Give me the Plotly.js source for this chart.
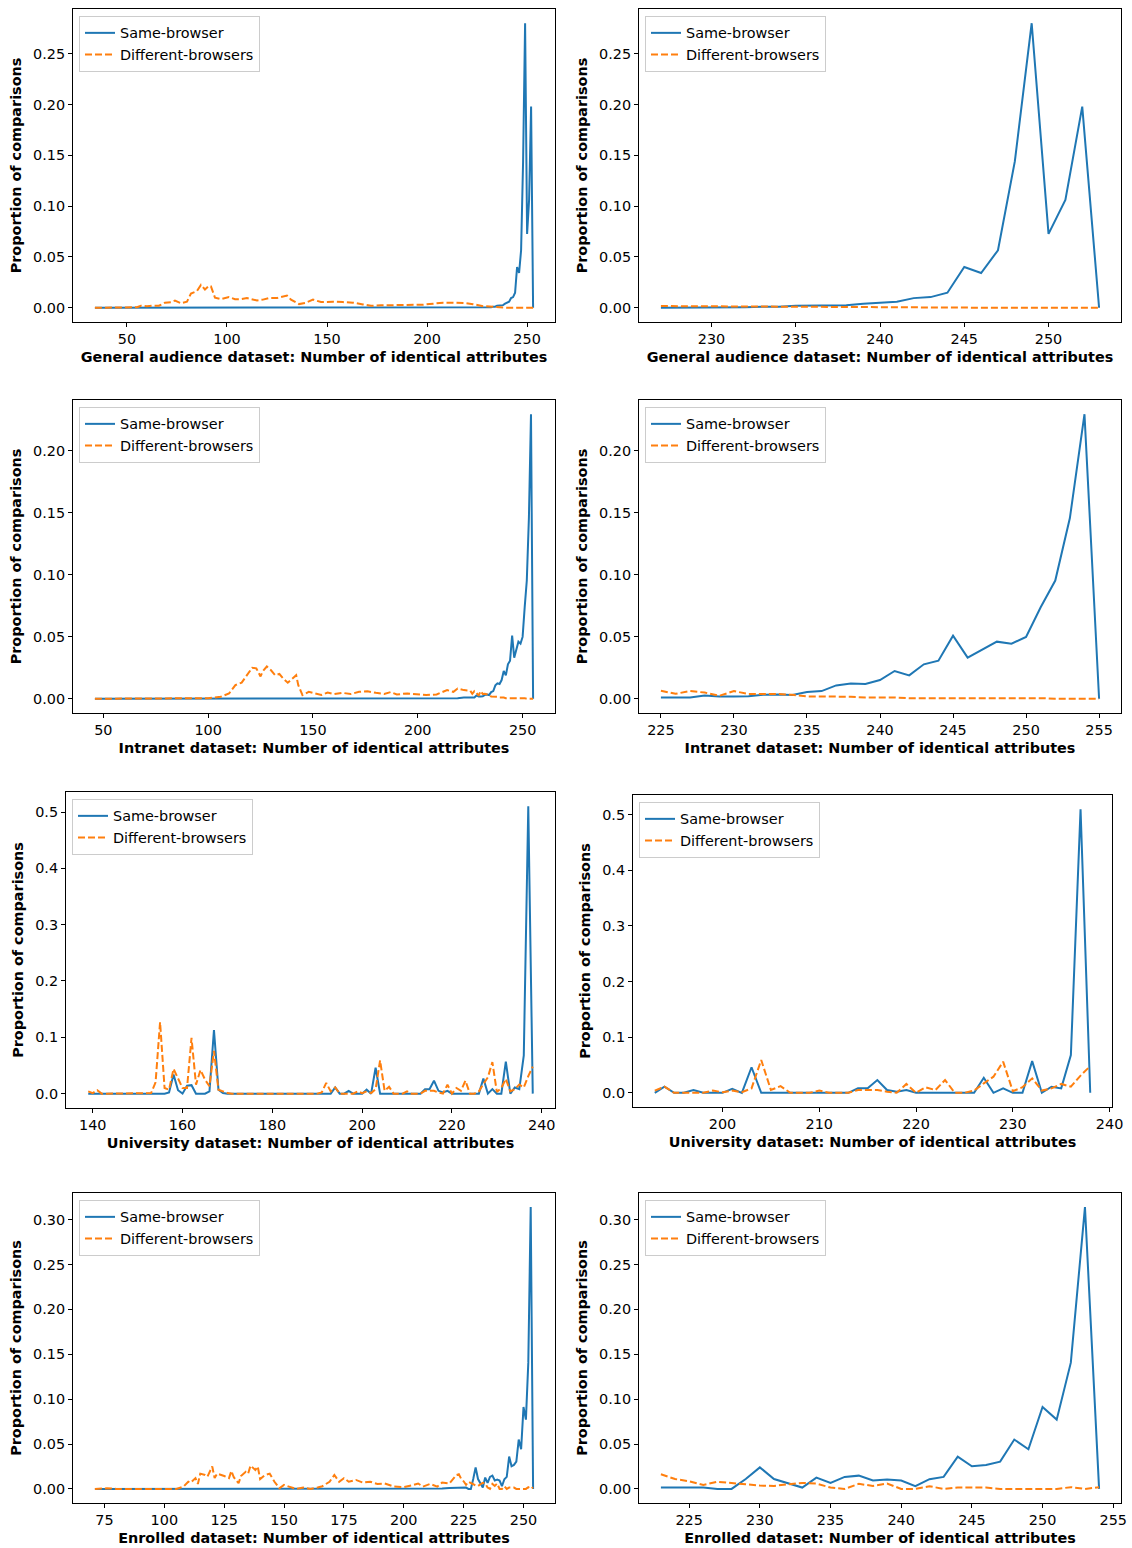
<!DOCTYPE html>
<html><head><meta charset="utf-8">
<script src="https://cdn.plot.ly/plotly-3.0.1.min.js"></script>
<style>html,body{margin:0;padding:0;background:#fff}#chart{width:1132px;height:1548px}</style>
</head><body><div id="chart"></div>
<script>
// ---------- DATA ----------
// General audience dataset
const GA_X = [34,40,45,50,55,57,60,63,66,69,72,74,77,80,82,85,87,89,91,92,94,97,101,104,107,110,115,118,121,125,130,132,136,139,143,147,150,153,158,163,168,172,177,181,185,190,194,198,203,208,212,215,219,223,226,
  227,228,229,230,231,232,233,234,235,236,237,238,239,240,241,242,243,244,245,246,247,248,249,250,251,252,253];
const GA_SAME = [0,0,0,0,0,0,0,0,0,0,0,0,0,0,0,0,0,0,0,0,0,0,0,0,0,0,0,0,0,0,0,0,0,0,0,0,0,0,0,0,0,0,0,0,0,0,0,0,0,0,0,0,0,0,0,
  0,0,0,0,0.0006,0.0006,0.001,0.001,0.002,0.0023,0.0026,0.0026,0.004,0.005,0.006,0.0095,0.0105,0.0148,0.0401,0.0342,0.0566,0.144,0.280,0.0727,0.106,0.198,0];
const GA_DIFF = [0,0,0,0,0.0005,0.002,0.0015,0.002,0.002,0.005,0.0055,0.007,0.0045,0.006,0.014,0.0165,0.0225,0.018,0.0215,0.021,0.01,0.0085,0.0105,0.0085,0.0085,0.0095,0.0072,0.008,0.0095,0.0095,0.012,0.008,0.0036,0.0046,0.008,0.0056,0.006,0.006,0.0056,0.005,0.0033,0.002,0.0024,0.0026,0.0028,0.003,0.003,0.003,0.004,0.005,0.005,0.005,0.0046,0.0035,0.002,
  0.0017,0.0016,0.0015,0.0013,0.0011,0.001,0.0008,0.0006,0.0005,0.0004,0.0003,0.0002,0.0001,0,0,0,0,0,0,0,0,0,0,0,0,0,0];

// Intranet dataset
const IN_X = [46,55,65,75,85,95,100,103,106,110,113,116,118,121,123,125,126,128,130,132,134,136,138,139,142,143,145,148,151,154,157,160,164,168,172,176,180,184,187,190,195,199,204,209,212,214,217,219,222,
  225,226,227,228,229,230,231,232,233,234,235,236,237,238,239,240,241,242,243,244,245,246,247,248,249,250,251,252,253,254,255];
const IN_SAME = [0,0,0,0,0,0,0,0,0,0,0,0,0,0,0,0,0,0,0,0,0,0,0,0,0,0,0,0,0,0,0,0,0,0,0,0,0,0,0,0,0,0,0,0,0,0,0,0.0005,0.001,
  0.001,0.001,0.001,0.0027,0.0019,0.0019,0.002,0.0032,0.0035,0.003,0.0054,0.0062,0.0108,0.0124,0.0119,0.0151,0.0224,0.0189,0.0278,0.0307,0.0509,0.0332,0.0394,0.0461,0.0445,0.0499,0.0739,0.0954,0.1458,0.2296,0];
const IN_DIFF = [0,0,0,0,0,0,0.0005,0.001,0.0016,0.0043,0.011,0.013,0.018,0.025,0.0245,0.018,0.022,0.026,0.023,0.019,0.020,0.016,0.013,0.0145,0.019,0.011,0.003,0.0056,0.0043,0.003,0.005,0.0038,0.0048,0.0038,0.0056,0.006,0.0048,0.0038,0.0054,0.0035,0.0043,0.0035,0.003,0.0035,0.0054,0.007,0.0056,0.0083,0.007,
  0.0065,0.004,0.0062,0.005,0.0024,0.0062,0.0038,0.004,0.0038,0.0032,0.0019,0.0019,0.0019,0.0016,0.001,0.0013,0.001,0.0005,0.0005,0.0005,0.0005,0.0008,0.0008,0.0005,0.0005,0.0003,0.0005,0,0,0,0];

// University dataset
const UN_X = [139,140,141,142,143,144,145,146,147,148,149,150,151,152,153,154,155,156,157,158,159,160,161,162,163,164,165,166,167,168,169,170,171,172,173,174,175,176,177,178,179,180,181,182,183,184,185,186,187,188,189,190,191,192,
  193,194,195,196,197,198,199,200,201,202,203,204,205,206,207,208,209,210,211,212,213,214,215,216,217,218,219,220,221,222,223,224,225,226,227,228,229,230,231,232,233,234,235,236,237,238];
const UN_SAME = [0,0,0,0,0,0,0,0,0,0,0,0,0,0,0,0,0,0,0.002,0.034,0.006,0,0.014,0.015,0,0,0,0.004,0.113,0.007,0.001,0,0,0,0,0,0,0,0,0,0,0,0,0,0,0,0,0,0,0,0,0,0,0,
  0,0.011,0,0,0.005,0,0,0,0.007,0,0.046,0,0,0,0,0,0,0,0,0,0,0.008,0.008,0.023,0.005,0.002,0.005,0,0,0,0,0,0,0,0.027,0,0.008,0,0,0.057,0,0.011,0.008,0.068,0.51,0];
const UN_DIFF = [0.004,0.001,0.006,0,0,0,0,0,0,0,0,0,0,0,0.001,0.02,0.127,0.01,0.007,0.044,0.028,0.01,0.01,0.099,0.016,0.042,0.025,0.013,0.076,0.007,0.004,0.001,0,0,0,0,0,0,0,0,0,0,0,0,0,0,0,0,0,0,0,0,0.002,0.019,
  0.004,0.011,0,0,0.001,0,0.004,0.001,0.004,0.001,0.008,0.059,0.005,0.012,0,0,0,0.004,0,0,0,0.005,0.005,0.005,0.002,0,0.016,0,0.01,0.005,0.023,0,0,0.004,0.017,0.029,0.056,0.003,0.01,0.026,0.004,0.008,0.016,0.011,0.031,0.048];

// Enrolled dataset
const EN_X = [71,76,80,85,90,95,100,105,108,110,111,113,114,115,117,118,120,121,122,124,125,127,128,129,131,132,134,135,136,138,139,140,142,144,146,148,150,152,155,158,161,164,166,169,171,173,175,177,180,183,186,189,192,196,200,204,206,208,211,214,216,219,222,
  223,224,225,226,227,228,229,230,231,232,233,234,235,236,237,238,239,240,241,242,243,244,245,246,247,248,249,250,251,252,253,254];
const EN_SAME = [0,0,0,0,0,0,0,0,0,0,0,0,0,0,0,0,0,0,0,0,0,0,0,0,0,0,0,0,0,0,0,0,0,0,0,0,0,0,0,0,0,0,0,0,0,0,0,0,0,0,0,0,0,0,0,0,0,0,0,0,0.0005,0.001,0.001,
  0.0015,0.0015,0.0015,0.0015,0,0,0.011,0.024,0.011,0.006,0.0015,0.0126,0.0067,0.0134,0.0148,0.0093,0.0104,0.0093,0.003,0.0108,0.0134,0.036,0.0252,0.0267,0.0304,0.055,0.0442,0.0913,0.0772,0.1407,0.314,0];
const EN_DIFF = [0,0.0007,0,0,0,0,0,0,0.0026,0.008,0.007,0.012,0.0055,0.017,0.0155,0.0137,0.025,0.012,0.017,0.0155,0.0144,0.012,0.02,0.013,0.0063,0.0144,0.019,0.017,0.026,0.021,0.025,0.011,0.0155,0.017,0.008,0.0007,0.0044,0.0026,0,0.0015,0,0.0015,0.003,0.008,0.0155,0.008,0.012,0.008,0.01,0.007,0.008,0.0055,0.006,0.0026,0.002,0.0044,0.006,0.0026,0.0055,0.0026,0.007,0.006,0.0155,
  0.0163,0.011,0.0085,0.0045,0.008,0.007,0.0052,0.0037,0.0033,0.0052,0.0067,0.006,0.0015,0,0.0056,0.0033,0.006,0,0,0.003,0,0.0015,0.0015,0.0015,0,0,0,0,0,0.0019,0,0.0019];

const DATASET_LABELS = ['General audience dataset','Intranet dataset','University dataset','Enrolled dataset'];
const ZOOM_START = [227,225,193,223];
const SERIES_NAMES = ['Same-browser','Different-browsers'];
const X_DTICK_LEFT = [50,50,20,25];
const X_DTICK_RIGHT = [5,5,10,5];
const Y_DTICK = [0.05,0.05,0.1,0.05];
const Y_FMT = ['.2f','.2f','.1f','.2f'];

// ---------- LAYOUT GEOMETRY ----------
const W = 1132, H = 1548;
const BOX = [ // [left, right, top, bottom] in px
  [73,555,9,322],[639,1121,9,322],
  [73,555,400,713],[639,1121,400,713],
  [66,555,792,1108],[633,1112,795,1107],
  [73,555,1193,1503],[639,1121,1193,1503]
];
const BLUE = '#1f77b4', ORANGE = '#ff7f0e';
const FONT = 'DejaVu Sans, sans-serif';
const FS = 14.4;

const sets = [[GA_X,GA_SAME,GA_DIFF],[IN_X,IN_SAME,IN_DIFF],[UN_X,UN_SAME,UN_DIFF],[EN_X,EN_SAME,EN_DIFF]];

const traces = [];
const layout = {
  width: W, height: H, margin:{l:0,r:0,t:0,b:0},
  paper_bgcolor:'#fff', plot_bgcolor:'#fff',
  font:{family:FONT, size:FS, color:'#000'},
  showlegend:true
};

function pad(min, max){ const s = max-min; return [min-0.05*s, max+0.05*s]; }

for (let r=0;r<4;r++){
  const [xs, same, diff] = sets[r];
  for (let c=0;c<2;c++){
    const p = r*2+c;            // 0..7
    const n = p+1;
    const ax = n===1?'':String(n);
    let X=xs, S=same, D=diff;
    if (c===1){
      const idx = xs.map((v,i)=>v>=ZOOM_START[r]?i:-1).filter(i=>i>=0);
      X = idx.map(i=>xs[i]); S = idx.map(i=>same[i]); D = idx.map(i=>diff[i]);
    }
    const leg = n===1?'legend':'legend'+n;
    traces.push({x:X,y:S,type:'scatter',mode:'lines',name:SERIES_NAMES[0],
      line:{color:BLUE,width:2},xaxis:'x'+ax,yaxis:'y'+ax,legend:leg,showlegend:true});
    traces.push({x:X,y:D,type:'scatter',mode:'lines',name:SERIES_NAMES[1],
      line:{color:ORANGE,width:2,dash:'7px,3px'},xaxis:'x'+ax,yaxis:'y'+ax,legend:leg,showlegend:true});
    const b = BOX[p];
    const xr = pad(Math.min(...X), Math.max(...X));
    const allY = S.concat(D);
    const yr = pad(Math.min(...allY), Math.max(...allY));
    const common = {showline:true, mirror:true, linecolor:'#000', linewidth:1,
      ticks:'outside', ticklen:4, tickwidth:1, tickcolor:'#000',
      showgrid:false, zeroline:false, automargin:false,
      tickfont:{family:FONT,size:FS,color:'#000'}};
    layout['xaxis'+ax] = Object.assign({}, common, {
      domain:[b[0]/W, b[1]/W], range:xr, anchor:'y'+ax,
      tick0:0, dtick:(c===0?X_DTICK_LEFT[r]:X_DTICK_RIGHT[r]),
      title:{text:'<b>'+DATASET_LABELS[r]+': Number of identical attributes</b>',
        font:{family:FONT,size:FS,color:'#000'}, standoff:5}
    });
    layout['yaxis'+ax] = Object.assign({}, common, {
      domain:[1-b[3]/H, 1-b[2]/H], range:yr, anchor:'x'+ax,
      tick0:0, dtick:Y_DTICK[r], tickformat:Y_FMT[r],
      title:{text:'<b>Proportion of comparisons</b>',
        font:{family:FONT,size:FS,color:'#000'}, standoff:8}
    });
    layout[leg] = {x:(b[0]+6)/W, y:1-(b[2]+7)/H, xanchor:'left', yanchor:'top',
      bgcolor:'rgba(255,255,255,0.8)', bordercolor:'#cccccc', borderwidth:1,
      font:{family:FONT,size:FS,color:'#000'}, tracegroupgap:0};
  }
}

Plotly.newPlot('chart', traces, layout, {displayModeBar:false, staticPlot:true});
</script>
</body></html>
